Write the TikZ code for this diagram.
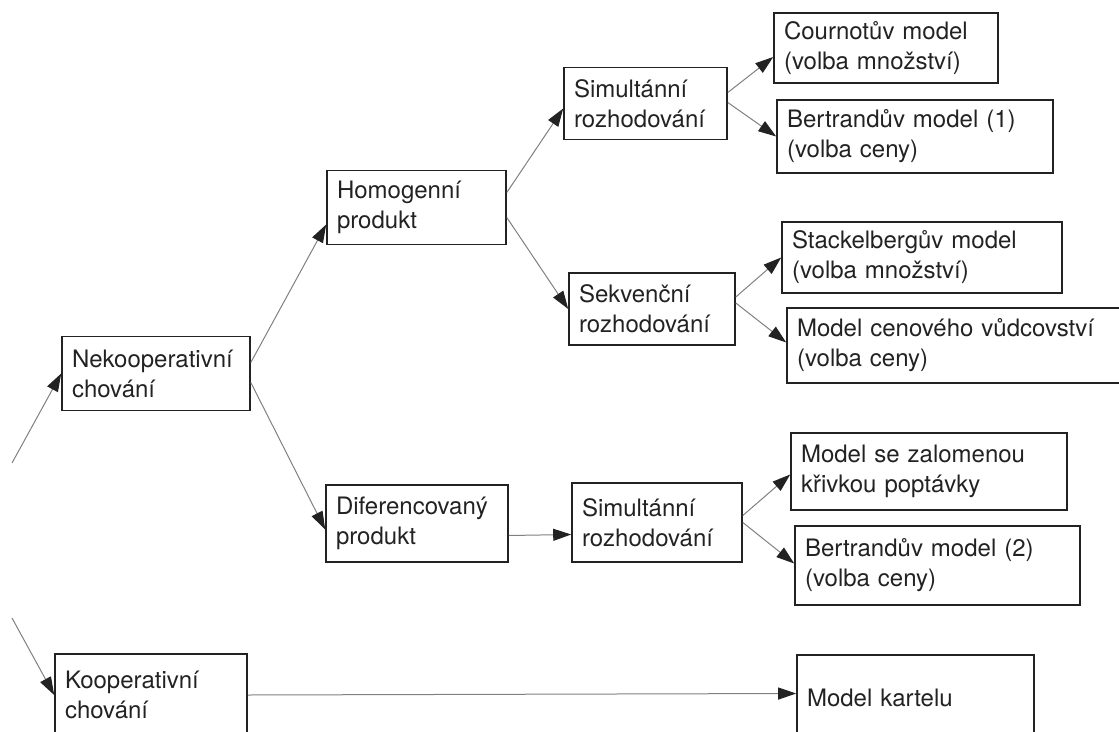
\documentclass[tikz,border=0pt]{standalone}
\usepackage{fontspec}
\setmainfont{TeX Gyre Heros}
\usepackage{xcolor}
\usepackage{tikz}
\usetikzlibrary{arrows.meta, positioning, calc}

\definecolor{inkgray}{HTML}{222222}
\definecolor{linegray}{HTML}{808080}

\begin{document}
\begin{tikzpicture}[
    x=1pt, y=-1pt,
    ->, >={Triangle[length=18pt, width=12pt, color=inkgray]},
    box/.style={draw=inkgray, line width=1.6pt, text=inkgray, text width=#1, align=left,
        inner xsep=10pt, inner ysep=4pt, minimum height=74pt,
        font=\fontsize{24}{30}\selectfont},
    link/.style={draw=linegray, line width=1pt}
]
\useasboundingbox (0,0) rectangle (1119,731);

% Nodes
\node[box=168pt] (nekoop) at (156,373.5) {Nekooperativní\\chování};
\node[box=172pt, minimum height=82pt] (koop) at (151,695) {Kooperativní\\chování};

\node[box=159pt] (homog) at (416.5,207.5) {Homogenní\\produkt};
\node[box=162pt, minimum height=77pt] (difer) at (417,523.5) {Diferencovaný\\produkt};

\node[box=143pt, minimum height=72pt] (simA) at (645.5,103.5) {Simultánní\\rozhodování};
\node[box=146pt, minimum height=72pt] (sekv) at (652,309) {Sekvenční\\rozhodování};
\node[box=150pt, minimum height=79pt] (simB) at (657,522.5) {Simultánní\\rozhodování};

\node[box=204pt, minimum height=70pt] (cournot) at (886,48) {Cournotův model\\(volba množství)};
\node[box=256pt, minimum height=73pt] (bertA) at (915,136.5) {Bertrandův model (1)\\(volba ceny)};
\node[box=260pt, minimum height=71pt] (stack) at (922,257.5) {Stackelbergův model\\(volba množství)};
\node[box=314pt, minimum height=75pt] (cenove) at (954,345.5) {Model cenového vůdcovství\\(volba ceny)};
\node[box=256pt, minimum height=77pt] (zalom) at (929,471.5) {Model se zalomenou\\křivkou poptávky};
\node[box=265pt, minimum height=79pt] (bertB) at (937.5,565.5) {Bertrandův model (2)\\(volba ceny)};
\node[box=217pt, minimum height=85pt] (kartel) at (915.5,697.5) {Model kartelu};

\coordinate (inA) at (12,463);
\coordinate (inB) at (12,618);

% Connectors
\draw[link] (inA) -- (nekoop.west);
\draw[link] (inB) -- (koop.west);

\draw[link] ($(nekoop.east)+(0,-11)$) -- ($(homog.west)+(0,17)$);
\draw[link] ($(nekoop.east)+(0,9)$) -- ($(difer.west)+(0,6)$);

\draw[link] ($(homog.east)+(0,-15)$) -- ($(simA.west)+(0,5)$);
\draw[link] ($(homog.east)+(0,10)$) -- (sekv.west);
\draw[link] ($(difer.east)+(0,12)$) -- ($(simB.west)+(0,12)$);

\draw[link] ($(simA.east)+(0,-11)$) -- ($(cournot.west)+(0,9)$);
\draw[link] ($(simA.east)+(0,-1)$) -- (bertA.west);
\draw[link] ($(sekv.east)+(0,-12)$) -- (stack.west);
\draw[link] ($(sekv.east)+(0,-6)$) -- ($(cenove.west)+(0,-3)$);
\draw[link] ($(simB.east)+(0,-7)$) -- ($(zalom.west)+(0,3)$);
\draw[link] (simB.east) -- ($(bertB.west)+(0,-2)$);

\draw[link] (koop.east) -- ($(kartel.west)+(0,-4)$);

\end{tikzpicture}
\end{document}
